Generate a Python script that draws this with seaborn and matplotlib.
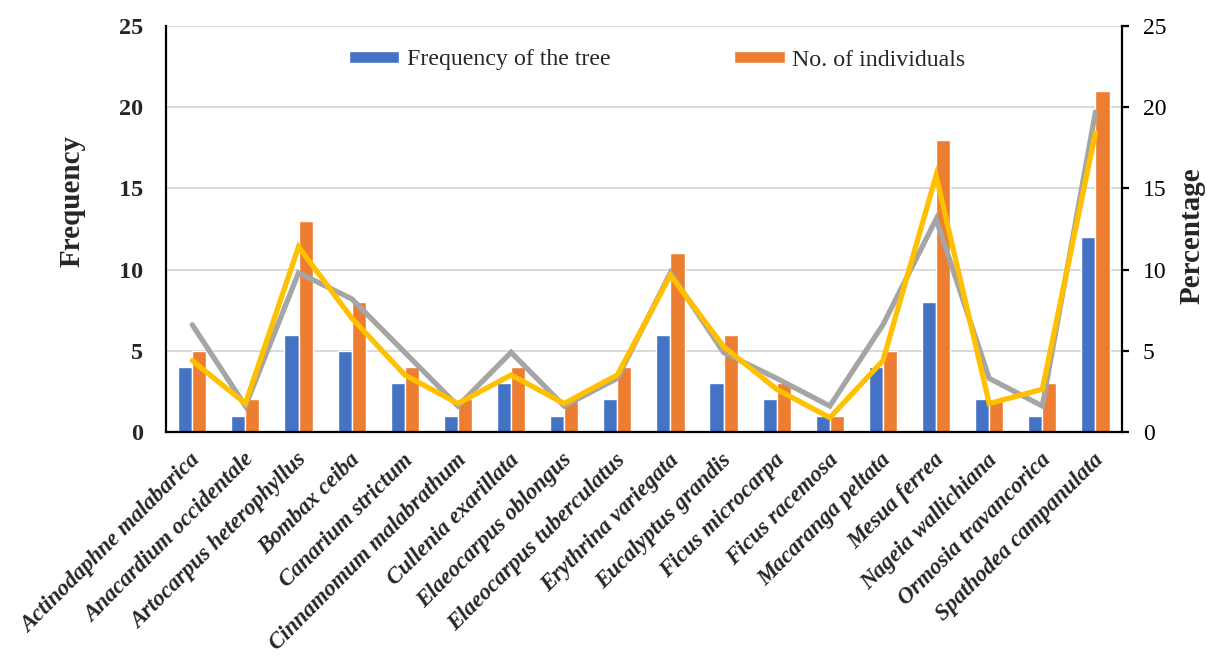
import numpy as np
import pandas as pd
import matplotlib
matplotlib.use("Agg")
import matplotlib.pyplot as plt
import matplotlib.transforms as mtransforms
from matplotlib.patches import Patch
import seaborn as sns

species = [
    "Actinodaphne malabarica", "Anacardium occidentale", "Artocarpus heterophyllus",
    "Bombax ceiba", "Canarium strictum", "Cinnamomum malabrathum",
    "Cullenia exarillata", "Elaeocarpus oblongus", "Elaeocarpus tuberculatus",
    "Erythrina variegata", "Eucalyptus grandis", "Ficus microcarpa",
    "Ficus racemosa", "Macaranga peltata", "Mesua ferrea",
    "Nageia wallichiana", "Ormosia travancorica", "Spathodea campanulata",
]
frequency = [4, 1, 6, 5, 3, 1, 3, 1, 2, 6, 3, 2, 1, 4, 8, 2, 1, 12]
individuals = [5, 2, 13, 8, 4, 2, 4, 2, 4, 11, 6, 3, 1, 5, 18, 2, 3, 21]
# percentage series (right axis)
pct_frequency = [6.6, 1.6, 9.8, 8.2, 4.9, 1.6, 4.9, 1.6, 3.3, 9.8, 4.9, 3.3, 1.6, 6.6, 13.1, 3.3, 1.6, 19.7]
pct_individuals = [4.39, 1.75, 11.40, 7.02, 3.51, 1.75, 3.51, 1.75, 3.51, 9.65, 5.26, 2.63, 0.88, 4.39, 15.79, 1.75, 2.63, 18.42]

series_names = ["Frequency of the tree", "No. of individuals"]
y_ticks = [0, 5, 10, 15, 20, 25]

BLUE, ORANGE, GRAY, GOLD = "#4472C4", "#ED7D31", "#A5A5A5", "#FFC000"
FONT = "Liberation Serif"

sns.set_style("white")
plt.rcParams["font.family"] = [FONT, "DejaVu Serif"]

df = pd.DataFrame({
    "species": species * 2,
    "value": frequency + individuals,
    "series": [series_names[0]] * len(species) + [series_names[1]] * len(species),
})

fig = plt.figure(figsize=(12.07, 6.59), dpi=100)
ax = fig.add_axes([0.1373, 0.3445, 0.7923, 0.6161])

sns.barplot(data=df, x="species", y="value", hue="series", order=species,
            hue_order=series_names, palette=[BLUE, ORANGE], width=0.53,
            saturation=1, ax=ax, legend=False, errorbar=None)

ax.set_ylim(0, 25)
ax.set_yticks(y_ticks)
ax.set_yticklabels([str(t) for t in y_ticks], fontsize=17.5, fontweight="bold")
ax.tick_params(axis="y", length=0, pad=16)
ax.tick_params(axis="x", length=0, pad=0)
ax.grid(axis="y", color="#D9D9D9", linewidth=1.4)
ax.set_axisbelow(True)
for s in ["top", "right"]:
    ax.spines[s].set_visible(False)
for s in ["left", "bottom"]:
    ax.spines[s].set_color("black")
    ax.spines[s].set_linewidth(1.6)
ax.set_xlabel("")
ax.set_ylabel("Frequency", fontsize=21, fontweight="bold")
ax.yaxis.set_label_coords(-0.098, 0.57)
ax.yaxis.label.set_va("center")

ax.set_xticks(range(len(species)))
ax.set_xticklabels(species, rotation=45, ha="right", va="center",
                   rotation_mode="anchor", fontsize=16.4, fontweight="bold",
                   fontstyle="italic")
offset = mtransforms.ScaledTranslation(5 / 100, -25 / 100, fig.dpi_scale_trans)
for lbl in ax.get_xticklabels():
    lbl.set_transform(lbl.get_transform() + offset)

ax2 = ax.twinx()
pos = np.arange(len(species))
sns.lineplot(x=pos, y=pct_frequency, ax=ax2, color=GRAY, linewidth=3.8,
             sort=False, solid_joinstyle="miter")
sns.lineplot(x=pos, y=pct_individuals, ax=ax2, color=GOLD, linewidth=3.8,
             sort=False, solid_joinstyle="miter")
ax2.set_ylim(0, 25)
ax2.set_yticks(y_ticks)
ax2.set_yticklabels([str(t) for t in y_ticks], fontsize=17)
ax2.tick_params(axis="y", direction="out", length=5, width=1.6, pad=10, colors="black")
for s in ["top", "left", "bottom"]:
    ax2.spines[s].set_visible(False)
ax2.spines["right"].set_color("black")
ax2.spines["right"].set_linewidth(1.6)
ax2.set_ylabel("Percentage", fontsize=21, fontweight="bold", rotation=90)
ax2.yaxis.set_label_coords(1.073, 0.483)
ax2.yaxis.label.set_va("center")
ax.set_xlim(-0.5, len(species) - 0.5)

handles = [Patch(facecolor=BLUE), Patch(facecolor=ORANGE)]
fig.legend(handles, series_names, loc="center", ncol=2, frameon=False,
           bbox_to_anchor=(657 / 1207, 1 - 60 / 659), fontsize=17.2,
           handlelength=2.1, handleheight=0.45, handletextpad=0.3,
           columnspacing=5.2)

fig.savefig("out.png", dpi=100)
